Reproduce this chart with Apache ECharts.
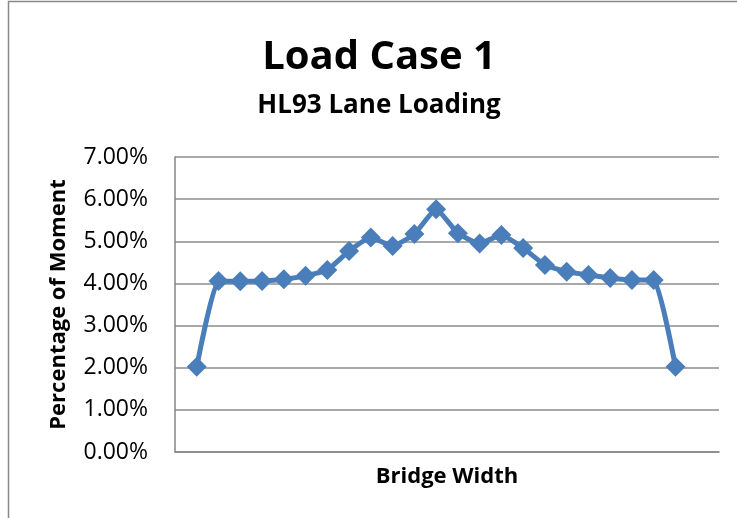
<!DOCTYPE html>
<html><head><meta charset="utf-8">
<script src="https://cdn.jsdelivr.net/npm/echarts@6/dist/echarts.min.js"></script>
<style>html,body{margin:0;padding:0;background:#fff}#c{width:737px;height:518px}</style>
</head><body><div id="c"></div>
<script>
const titleText = 'Load Case 1';
const subtitleText = 'HL93 Lane Loading';
const xName = 'Bridge Width';
const yName = 'Percentage of Moment';
const positions = [1,2,3,4,5,6,7,8,9,10,11,12,13,14,15,16,17,18,19,20,21,22,23];
const values = [2.02,4.06,4.05,4.06,4.10,4.18,4.32,4.77,5.09,4.89,5.17,5.76,5.19,4.95,5.15,4.84,4.44,4.28,4.20,4.13,4.08,4.08,2.02];
const yTicks = [0,1,2,3,4,5,6,7];

const chart = echarts.init(document.getElementById('c'), null, {renderer:'canvas'});
const font = "'Open Sans', 'Liberation Sans', sans-serif";
chart.setOption({
  backgroundColor:'#fff',
  animation:false,
  title:[
    {text:titleText, top:33, left:374, textAlign:'center',
     textStyle:{fontFamily:font, fontWeight:'bold', fontSize:40, color:'#000'}},
    {text:subtitleText, top:88, left:374, textAlign:'center',
     textStyle:{fontFamily:font, fontWeight:'bold', fontSize:26, color:'#000'}}
  ],
  graphic:[{type:'rect', shape:{x:8.5,y:1.5,width:760,height:560}, style:{fill:null, stroke:'#888', lineWidth:1.5}, silent:true}],
  grid:{left:175, right:18, top:157, bottom:66, containLabel:false},
  xAxis:{type:'value', min:0, max:25, name:xName, nameLocation:'middle', nameGap:14,
    nameTextStyle:{fontFamily:font, fontWeight:'bold', fontSize:22, color:'#000'},
    axisLine:{show:true, lineStyle:{color:'#868686', width:1.5}}, axisTick:{show:false}, axisLabel:{show:false}, splitLine:{show:false}},
  yAxis:{type:'value', min:yTicks[0], max:yTicks[yTicks.length-1], interval:1, name:yName, nameLocation:'middle', nameGap:105,
    nameTextStyle:{fontFamily:font, fontWeight:'bold', fontSize:22, color:'#000'},
    axisLine:{show:true, lineStyle:{color:'#868686', width:1.5}}, axisTick:{show:false},
    axisLabel:{fontFamily:font, fontSize:23, color:'#000', margin:27, formatter:v=>v.toFixed(2)+'%'},
    splitLine:{show:true, lineStyle:{color:'#8c8c8c', width:1.5}}},
  series:[{type:'line', data:positions.map((p,i)=>[p,values[i]]), smooth:0.15,
    symbol:'diamond', symbolSize:20, lineStyle:{color:'#4A7EBB', width:5},
    itemStyle:{color:'#4A7EBB'}}]
});
</script></body></html>
